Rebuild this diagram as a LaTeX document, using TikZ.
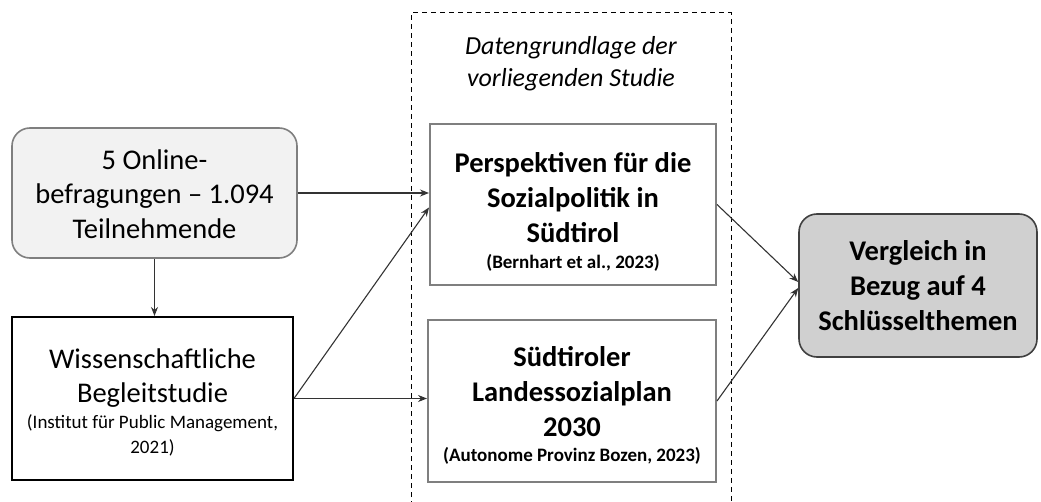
\documentclass[tikz,border=0pt]{standalone}
\usepackage{fontspec}
\setmainfont{Carlito}
\usetikzlibrary{arrows.meta}
\definecolor{bordergray}{HTML}{7F7F7F}
\definecolor{lightfill}{HTML}{F2F2F2}
\definecolor{darkfill}{HTML}{D0D0D0}
\definecolor{darkborder}{HTML}{404040}
\definecolor{arrowcol}{HTML}{333333}
\begin{document}
\begin{tikzpicture}[x=1pt,y=-1pt,
  lightbox/.style={draw=bordergray, fill=lightfill, line width=1.6pt, rounded corners=18pt, inner sep=0pt},
  blackbox/.style={draw=black, line width=2pt, inner sep=0pt},
  graybox/.style={draw=bordergray, line width=2pt, inner sep=0pt},
  resbox/.style={draw=darkborder, fill=darkfill, line width=1.6pt, rounded corners=18pt, inner sep=0pt},
  regtext/.style={align=center, inner sep=0pt, font=\fontsize{28.5}{34.5}\selectfont},
  boldtext/.style={align=center, inner sep=0pt, font=\fontsize{28.5}{35}\selectfont\bfseries},
  smallreg/.style={align=center, inner sep=0pt, font=\fontsize{19}{25}\selectfont},
  smallbold/.style={align=center, inner sep=0pt, font=\fontsize{19}{24}\selectfont\bfseries},
  headtext/.style={align=center, inner sep=0pt, font=\fontsize{26}{32}\selectfont\itshape},
  arr/.style={draw=arrowcol, line width=1.1pt, -{Stealth[length=9pt,width=7pt]}},
  dashframe/.style={draw=black, line width=1pt, dash pattern=on 5pt off 4pt}
]
\useasboundingbox (0,0) rectangle (1041,502);

% dashed frame
\coordinate (fbl) at (411,506);
\coordinate (ftl) at (411,13);
\coordinate (ftr) at (731,13);
\coordinate (fbr) at (731,506);
\draw[dashframe] (fbl) -- (ftl) -- (ftr) -- (fbr);

% boxes
\node[lightbox, minimum width=285pt, minimum height=130pt] (onl) at (154.5,193) {};
\node[blackbox, minimum width=281pt, minimum height=163pt] (wiss) at (152.5,398.5) {};
\node[graybox, minimum width=286pt, minimum height=161pt] (persp) at (573,204.5) {};
\node[graybox, minimum width=288pt, minimum height=162pt] (lsp) at (572,401) {};
\node[resbox, minimum width=238pt, minimum height=143pt] (cmp) at (918,285.5) {};

% texts
\node[headtext] (head) at (571,64) {Datengrundlage der\\vorliegenden Studie};
\node[regtext] (onltxt) at (154.5,194) {5 Online-\\befragungen – 1.094\\Teilnehmende};
\node[regtext] (wisstxt) at (152.5,378) {Wissenschaftliche\\Begleitstudie};
\node[smallreg] (wisssrc) at (152.5,435) {(Institut für Public Management,\\2021)};
\node[boldtext] (persptxt) at (573,198) {Perspektiven für die\\Sozialpolitik in\\Südtirol};
\node[smallbold] (perspsrc) at (573,263) {(Bernhart et al., 2023)};
\node[boldtext] (lsptxt) at (572,392) {Südtiroler\\Landessozialplan\\2030};
\node[smallbold] (lspsrc) at (572,456) {(Autonome Provinz Bozen, 2023)};
\node[boldtext] (cmptxt) at (918,286) {Vergleich in\\Bezug auf 4\\Schlüsselthemen};

% connectors
\draw[arr] (onl.east) -- (onl.east -| persp.west);
\draw[arr] (onl.south) -- (onl.south |- wiss.north);
\draw[arr] (wiss.east) -- ([yshift=-3pt]persp.west);
\draw[arr] (wiss.east) -- (wiss.east -| lsp.west);
\draw[arr] (persp.east) -- ([yshift=3.5pt]cmp.west);
\draw[arr] (lsp.east) -- ([yshift=-2.5pt]cmp.west);
\end{tikzpicture}
\end{document}
